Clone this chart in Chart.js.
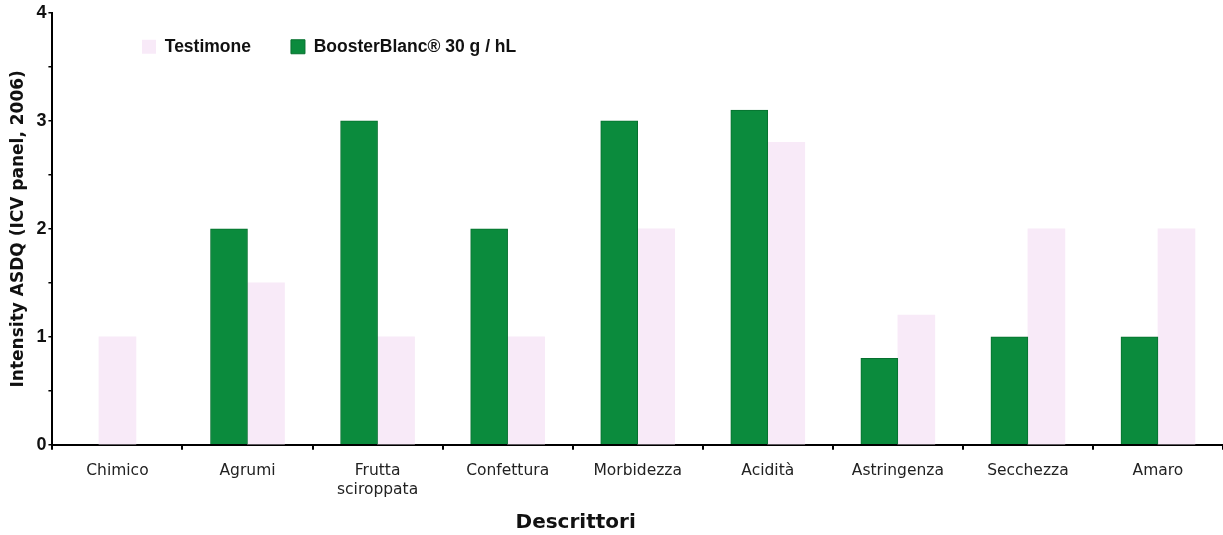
<!DOCTYPE html>
<html>
<head>
<meta charset="utf-8">
<script src="https://cdn.jsdelivr.net/npm/chart.js@4"></script>
<style>
  html, body { margin: 0; padding: 0; background: #fff; }
  #wrap { width: 1223px; height: 535px; position: relative; }
</style>
</head>
<body>
<div id="wrap"><canvas id="c" width="1223" height="535"></canvas></div>
<script>
const categories = ['Chimico', 'Agrumi', ['Frutta', 'sciroppata'], 'Confettura', 'Morbidezza', 'Acidità', 'Astringenza', 'Secchezza', 'Amaro'];
const boosterValues = [null, 2, 3, 2, 3, 3.1, 0.8, 1, 1];
const testimoneValues = [1, 1.5, 1, 1, 2, 2.8, 1.2, 2, 2];
const seriesNames = ['BoosterBlanc® 30 g / hL', 'Testimone'];
const yTickLabels = [0, 1, 2, 3, 4];
const xTitle = 'Descrittori';
const yTitle = 'Intensity ASDQ (ICV panel, 2006)';

// place the legend inside the plot area, top-left, items in one row
const legendMove = {
  id: 'legendMove',
  afterLayout(chart) {
    const l = chart.legend;
    if (!l) return;
    const pad = l.options.labels.padding;
    l.isHorizontal = () => true;
    l.lineWidths = [chart.width, chart.width, chart.width];
    l.left = 142 - pad;
    l.right = chart.width;
    l.top = 38 - pad;
    l.bottom = l.top + 100;
  }
};

// x-axis title drawn slightly left of the axis centre, as in the original
const xTitlePlugin = {
  id: 'xTitlePlugin',
  afterDraw(chart) {
    const ctx = chart.ctx;
    const a = chart.chartArea;
    ctx.save();
    ctx.font = 'bold 20px "DejaVu Sans", Verdana, sans-serif';
    ctx.fillStyle = '#111';
    ctx.textAlign = 'center';
    ctx.textBaseline = 'middle';
    ctx.fillText(xTitle, a.left + (a.right - a.left) * 0.447, chart.height - 12);
    ctx.restore();
  }
};

new Chart(document.getElementById('c'), {
  type: 'bar',
  data: {
    labels: categories,
    datasets: [
      { label: seriesNames[0], data: boosterValues, backgroundColor: '#0b8b3d', borderColor: '#07702f', borderWidth: 1, skipNull: true, barThickness: 37 },
      { label: seriesNames[1], data: testimoneValues, backgroundColor: '#f8eaf8', borderColor: '#f8eaf8', borderWidth: 0, skipNull: true, barThickness: 37 }
    ]
  },
  plugins: [legendMove, xTitlePlugin],
  options: {
    responsive: false,
    animation: false,
    layout: { padding: { top: 6, right: 0, bottom: 24, left: 8 } },
    plugins: {
      tooltip: { enabled: false },
      legend: {
        position: 'chartArea',
        align: 'start',
        reverse: true,
        labels: {
          boxWidth: 14, boxHeight: 14, padding: 40,
          color: '#111',
          font: { family: 'Liberation Sans, Arial, sans-serif', size: 17.5, weight: 'bold' }
        }
      }
    },
    scales: {
      x: {
        border: { color: '#000', width: 2 },
        grid: { display: true, drawOnChartArea: false, drawTicks: true, tickLength: 5, color: '#000', lineWidth: 2 },
        ticks: { color: '#222', padding: 12, maxRotation: 0, autoSkip: false, font: { family: 'DejaVu Sans, Verdana, sans-serif', size: 15.5 } }
      },
      y: {
        min: 0, max: 4,
        border: { color: '#000', width: 2 },
        grid: { display: true, drawOnChartArea: false, drawTicks: true, tickLength: 4, color: '#000', lineWidth: 1.5 },
        ticks: {
          stepSize: 0.5, autoSkip: false, padding: 2, color: '#111',
          font: { family: 'Liberation Sans, Arial, sans-serif', size: 18, weight: 'bold' },
          callback: (v) => yTickLabels.includes(v) ? String(v) : ''
        },
        title: { display: true, text: yTitle, color: '#111', padding: { top: 0, bottom: 6 }, font: { family: 'DejaVu Sans, Verdana, sans-serif', size: 17, weight: 'bold' } }
      }
    }
  }
});
</script>
</body>
</html>
